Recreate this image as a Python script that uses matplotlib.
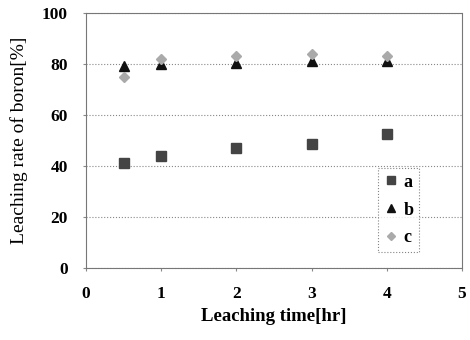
import matplotlib.pyplot as plt

# data
tiempo = [0.5, 1, 2, 3, 4]
serie_a = [41, 44, 47, 48.5, 52.5]
serie_b = [79, 80, 80.5, 81, 81]
serie_c = [75, 82, 83, 84, 83]

plt.rcParams['font.family'] = ['Liberation Serif', 'DejaVu Serif']
plt.rcParams['font.weight'] = 'bold'

fig = plt.figure(figsize=(4.7, 3.4), dpi=100)
ax = fig.add_axes([0.183, 0.212, 0.8, 0.75])

ax.plot(tiempo, serie_a, 's', color='#444444', markersize=6.5, label='a', linestyle='none')
ax.plot(tiempo, serie_b, '^', color='#111111', markersize=7, label='b', linestyle='none')
ax.plot(tiempo, serie_c, 'D', color='#aaaaaa', markersize=5, label='c', linestyle='none')

ax.set_xlim(0, 5)
ax.set_ylim(0, 100)
ax.set_xticks(range(0, 6))
ax.set_yticks(range(0, 101, 20))
ax.grid(True, axis='y', linestyle=':', color='#888888', linewidth=0.8)
ax.set_axisbelow(True)
for s in ax.spines.values():
    s.set_color('#777777')
    s.set_linewidth(0.8)
    s.set_linestyle((0, (2, 1)))
ax.tick_params(length=2, color='#888888', labelsize=12.5)
ax.tick_params(axis='y', pad=11)
ax.tick_params(axis='x', pad=11)
ax.set_xlabel('Leaching time[hr]', fontsize=13.5, fontweight='bold', labelpad=4)
ax.set_ylabel('Leaching rate of boron[%]', fontsize=14, fontweight='normal', labelpad=10)

leg = ax.legend(loc='lower right', bbox_to_anchor=(0.886, 0.063), fontsize=13,
                frameon=True, fancybox=False, handletextpad=0.3, labelspacing=0.6,
                borderpad=0.3, handlelength=0.8, borderaxespad=0, markerscale=0.8)
leg.get_frame().set_edgecolor('#666666')
leg.get_frame().set_linestyle(':')
leg.get_frame().set_linewidth(0.8)

plt.savefig('out.png', dpi=100)
